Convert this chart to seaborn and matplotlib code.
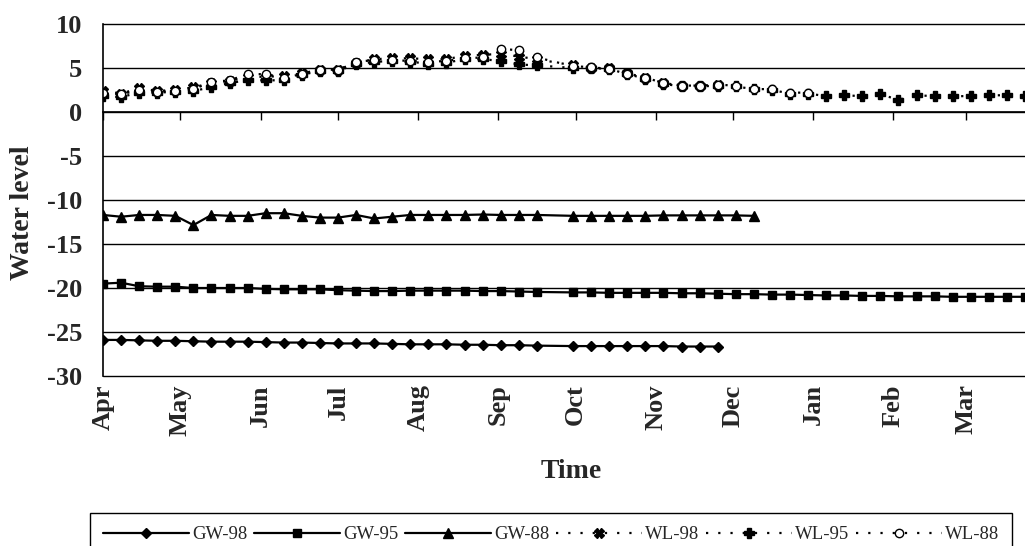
import matplotlib
matplotlib.use("Agg")
import matplotlib.pyplot as plt
import matplotlib.dates as mdates
import seaborn as sns
import numpy as np
import pandas as pd

nan = np.nan

# leituras semanais a partir de 1 de abril (semana 25 sem dados)
semanas = pd.date_range("1998-04-01", periods=52, freq="7D")

gw_98 = [-25.9, -25.9, -25.95, -26.0, -26.0, -26.05, -26.1, -26.1, -26.1, -26.15,
         -26.2, -26.2, -26.25, -26.3, -26.3, -26.3, -26.35, -26.4, -26.4, -26.4,
         -26.45, -26.45, -26.5, -26.5, -26.55, nan, -26.6, -26.6, -26.6, -26.6,
         -26.6, -26.6, -26.65, -26.65, -26.65] + [nan] * 17

gw_95 = [-19.5, -19.4, -19.8, -19.85, -19.85, -20.0, -20.0, -20.0, -20.0, -20.1,
         -20.15, -20.15, -20.15, -20.25, -20.3, -20.35, -20.35, -20.3, -20.3, -20.3,
         -20.3, -20.35, -20.35, -20.4, -20.45, nan, -20.5, -20.5, -20.55, -20.55,
         -20.55, -20.55, -20.6, -20.6, -20.65, -20.7, -20.7, -20.75, -20.75, -20.8,
         -20.85, -20.85, -20.9, -20.9, -20.95, -20.95, -20.95, -21.0, -21.0, -21.0,
         -21.0, -21.0]

gw_88 = [-11.7, -11.9, -11.7, -11.7, -11.8, -12.85, -11.7, -11.8, -11.8, -11.5,
         -11.5, -11.8, -12.0, -12.0, -11.7, -12.1, -11.9, -11.7, -11.7, -11.7,
         -11.7, -11.65, -11.7, -11.7, -11.7, nan, -11.8, -11.8, -11.8, -11.8,
         -11.8, -11.75, -11.75, -11.75, -11.75, -11.75, -11.8] + [nan] * 15

wl_98 = [2.4, 2.1, 2.7, 2.4, 2.5, 2.8, 3.3, 3.5, 4.0, 4.0,
         4.1, 4.4, 4.8, 4.8, 5.6, 6.0, 6.1, 6.1, 6.0, 6.0,
         6.4, 6.5, 6.6, 6.3, 6.0, nan, 5.3, 5.0, 5.0, 4.4,
         3.9, 3.3, 3.0, 3.0, 3.1] + [nan] * 17

wl_95 = [1.8, 1.7, 2.2, 2.2, 2.3, 2.4, 2.8, 3.3, 3.6, 3.6,
         3.6, 4.2, 4.7, 4.7, 5.4, 5.7, 5.8, 5.7, 5.5, 5.6,
         6.0, 6.0, 5.8, 5.4, 5.3, nan, 5.0, 5.0, 4.9, 4.3,
         3.8, 3.2, 2.9, 2.9, 3.0, 2.9, 2.6, 2.5, 2.1, 2.1,
         1.8, 1.9, 1.8, 2.0, 1.4, 1.9, 1.8, 1.8, 1.8, 1.9,
         1.9, 1.8]

wl_88 = [2.2, 2.0, 2.5, 2.3, 2.4, 2.6, 3.4, 3.6, 4.3, 4.3,
         3.9, 4.3, 4.8, 4.8, 5.7, 5.9, 5.9, 5.8, 5.7, 5.8,
         6.1, 6.2, 7.2, 7.0, 6.2, nan, 5.2, 5.1, 4.9, 4.3,
         3.9, 3.3, 3.0, 3.0, 3.1, 3.0, 2.6, 2.6, 2.2, 2.2] + [nan] * 12

pontilhado = (0, (1, 4.5))
series = [
    ("GW-98", gw_98, dict(marker="D", linestyle="-", markersize=5.5)),
    ("GW-95", gw_95, dict(marker="s", linestyle="-", markersize=6)),
    ("GW-88", gw_88, dict(marker="^", linestyle="-", markersize=6.5)),
    ("WL-98", wl_98, dict(marker="X", linestyle=pontilhado, markersize=7)),
    ("WL-95", wl_95, dict(marker="P", linestyle=pontilhado, markersize=6.5)),
    ("WL-88", wl_88, dict(marker="o", linestyle=pontilhado, markersize=6,
                          markerfacecolor="white")),
]

sns.set_style("white")
plt.rcParams["font.family"] = ["Liberation Serif", "DejaVu Serif"]
plt.rcParams["axes.unicode_minus"] = False

fig, ax = plt.subplots(figsize=(10.25, 5.46), dpi=100)
fig.subplots_adjust(left=103 / 1025, right=1.0, top=1 - 24 / 546, bottom=1 - 376 / 546)

for nome, valores, estilo in series:
    df = pd.DataFrame({"Time": semanas, "Water level": valores}).dropna()
    estilo.setdefault("markerfacecolor", "black")
    sns.lineplot(data=df, x="Time", y="Water level", ax=ax, color="black",
                 linewidth=1.6, markeredgecolor="black", markeredgewidth=1.0,
                 estimator=None, label=nome, **estilo)

ax.set_ylim(-30, 10)
ax.set_yticks(np.arange(-30, 11, 5))
ax.set_xlim(semanas[0], semanas[0] + pd.Timedelta(days=357))
ax.xaxis.set_major_locator(mdates.MonthLocator())
ax.xaxis.set_major_formatter(mdates.DateFormatter("%b"))

ax.yaxis.grid(True, color="black", linewidth=1.0)
ax.xaxis.grid(False)
for gl in ax.get_ygridlines():
    gl.set_clip_on(False)

for lado in ["top", "right", "bottom"]:
    ax.spines[lado].set_visible(False)
ax.spines["left"].set_color("black")
ax.spines["left"].set_linewidth(1.2)

ax.tick_params(axis="y", direction="out", length=6, width=1, color="black",
               labelsize=19, pad=9)
ax.tick_params(axis="x", length=0, pad=6, labelsize=19, labelrotation=90)
for rot in ax.get_yticklabels() + ax.get_xticklabels():
    rot.set_fontweight("bold")

# eixo das categorias cruza em zero, como no Excel
eixo0 = ax.secondary_xaxis(0, transform=ax.transData)
eixo0.set_xticks(ax.get_xticks())
eixo0.tick_params(direction="out", length=6, width=1, color="black", labelbottom=False)
eixo0.spines["bottom"].set_color("black")
eixo0.spines["bottom"].set_linewidth(1.2)

ax.set_ylabel("Water level", fontsize=20, fontweight="bold")
ax.yaxis.set_label_coords(-0.074, 0.463)
ax.set_xlabel("Time", fontsize=20, fontweight="bold")
ax.xaxis.set_label_coords(0.508, -0.235)

# legenda cortada na borda inferior, como no original
ax.legend(ncol=6, loc="upper center",
          bbox_to_anchor=(551 / 1025, 1 - 513 / 546),
          bbox_transform=fig.transFigure, frameon=True, fancybox=False,
          edgecolor="black", framealpha=1, handlelength=4.6, handletextpad=0.15,
          columnspacing=0.35, borderpad=0.7, borderaxespad=0, prop={"size": 13.5})

plt.savefig("out.png", dpi=100)
plt.close()
